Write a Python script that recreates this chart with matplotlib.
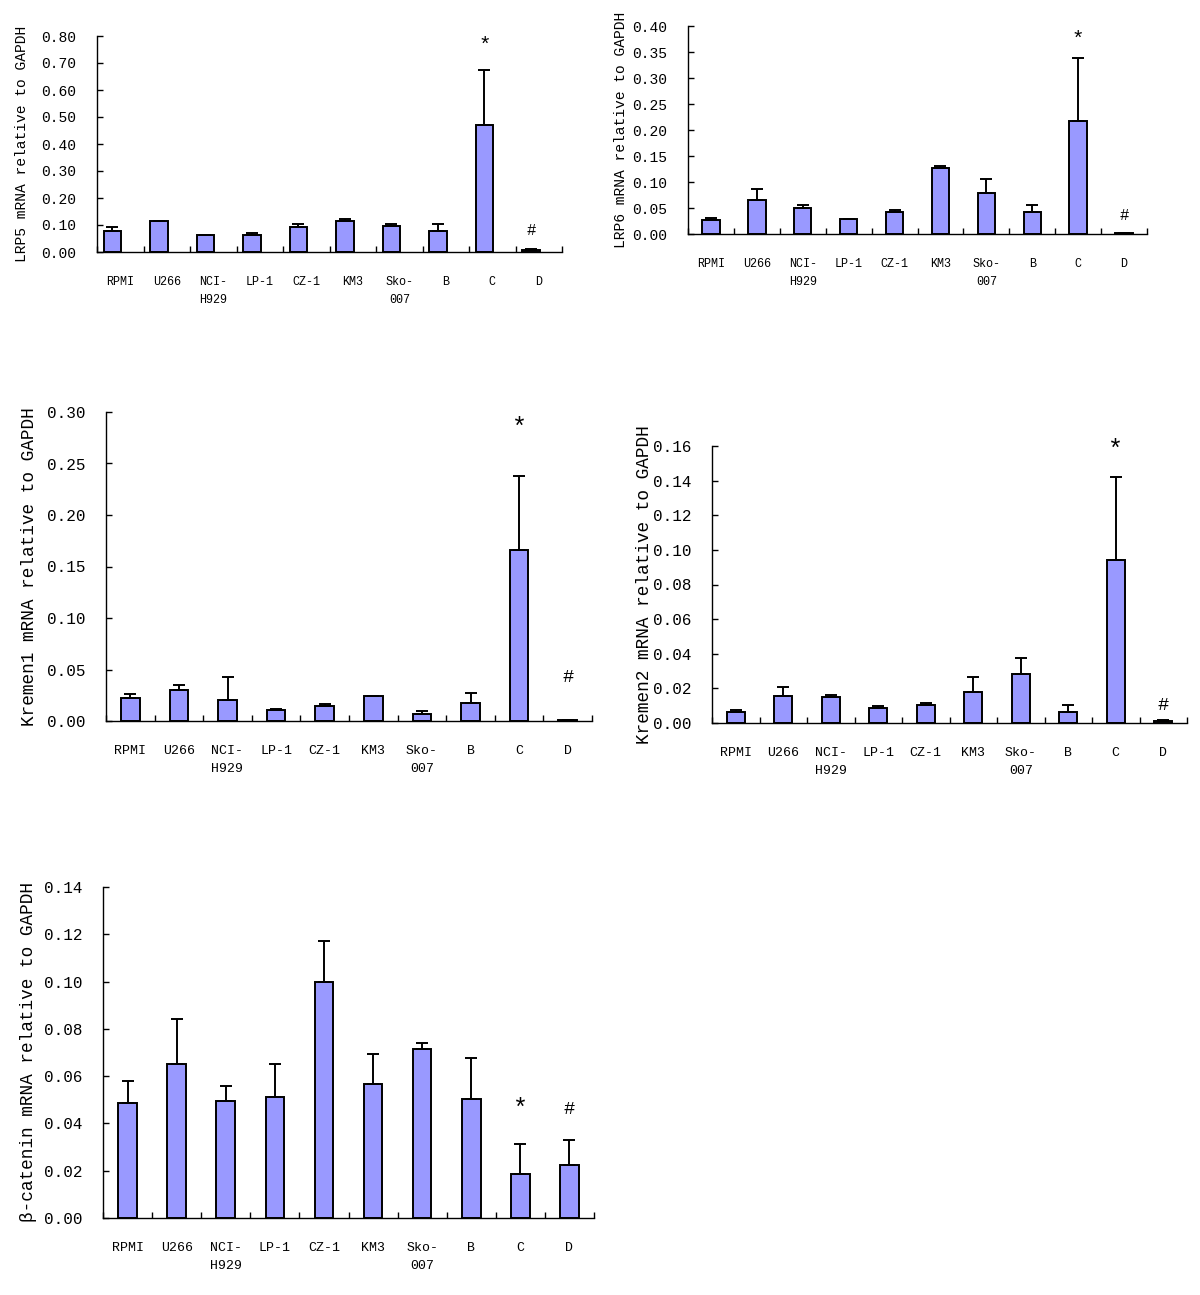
import numpy as np
import matplotlib
matplotlib.use("Agg")
import matplotlib.pyplot as plt
from matplotlib.ticker import FormatStrFormatter, MultipleLocator, FixedLocator

plt.rcParams['font.family'] = ['Liberation Mono', 'DejaVu Sans Mono']

groups = ["RPMI", "U266", "NCI-\nH929", "LP-1", "CZ-1", "KM3", "Sko-\n007", "B", "C", "D"]

# mean and (upper) error
lrp5_mean = [0.078, 0.116, 0.064, 0.064, 0.093, 0.116, 0.098, 0.078, 0.469, 0.006]
lrp5_err = [0.015, 0.0, 0.0, 0.006, 0.011, 0.007, 0.006, 0.026, 0.204, 0.004]

lrp6_mean = [0.026, 0.066, 0.050, 0.028, 0.043, 0.127, 0.078, 0.043, 0.217, 0.0025]
lrp6_err = [0.005, 0.020, 0.006, 0.0, 0.004, 0.003, 0.027, 0.013, 0.121, 0.0]

kremen1_mean = [0.0223, 0.0298, 0.0207, 0.0104, 0.0142, 0.0246, 0.0068, 0.0172, 0.166, 0.001]
kremen1_err = [0.0037, 0.0052, 0.0223, 0.0013, 0.0026, 0.0, 0.0032, 0.0098, 0.072, 0.0]

kremen2_mean = [0.0065, 0.0158, 0.015, 0.0085, 0.0106, 0.0179, 0.0285, 0.0065, 0.094, 0.0012]
kremen2_err = [0.0008, 0.0052, 0.0013, 0.0011, 0.0009, 0.0084, 0.0092, 0.0039, 0.048, 0.0007]

bcat_mean = [0.0487, 0.0651, 0.0495, 0.0511, 0.0998, 0.0566, 0.0716, 0.0505, 0.0184, 0.0224]
bcat_err = [0.0094, 0.019, 0.0064, 0.0142, 0.0174, 0.0129, 0.0023, 0.0173, 0.0131, 0.0107]

# height of the "*" (over C) and "#" (over D) marks
star_y = [0.765, 0.374, 0.285, 0.158, 0.0462]
hash_y = [0.08, 0.035, 0.042, 0.010, 0.0457]

ylabels = ["LRP5 mRNA relative to GAPDH",
           "LRP6 mRNA relative to GAPDH",
           "Kremen1 mRNA relative to GAPDH",
           "Kremen2 mRNA relative to GAPDH",
           "\u03b2-catenin mRNA relative to GAPDH"]
ymax = [0.80, 0.40, 0.30, 0.16, 0.14]
ystep = [0.10, 0.05, 0.05, 0.02, 0.02]

W, H = 1200, 1295
# pixel boxes: left, right, top, bottom
boxes = [(97, 562, 36, 252), (688, 1147, 26, 234), (106, 592, 412, 721),
         (712, 1187, 446, 723), (103, 594, 887, 1218)]
label_x = [-0.162, -0.146, -0.158, -0.143, -0.151]
bar_shift = [-0.17, 0, 0, 0, 0]
small = [True, True, False, False, False]

panels = [(lrp5_mean, lrp5_err), (lrp6_mean, lrp6_err), (kremen1_mean, kremen1_err),
          (kremen2_mean, kremen2_err), (bcat_mean, bcat_err)]

fig = plt.figure(figsize=(W / 100, H / 100), dpi=100)

for i, (mean, err) in enumerate(panels):
    l, r, t, b = boxes[i]
    ax = fig.add_axes([l / W, 1 - b / H, (r - l) / W, (b - t) / H])
    x = np.arange(len(groups)) + bar_shift[i]
    ax.bar(x, mean, width=0.38, color='#9999ff', edgecolor='black', linewidth=1.4, zorder=2)
    ax.errorbar(x, mean, yerr=[np.zeros(len(mean)), err], fmt='none', ecolor='black',
                elinewidth=1.4, capsize=4.5, capthick=1.4, zorder=3)

    fs_tick = 10.5 if small[i] else 11.5
    fs_x = 8.5 if small[i] else 9.5
    fs_lab = 10.5 if small[i] else 12.8
    fs_mark = 15 if small[i] else 18

    ax.text(x[8], star_y[i], "*", ha='center', va='center', fontsize=fs_mark)
    ax.text(x[9], hash_y[i], "#", ha='center', va='center', fontsize=fs_mark * 0.75)

    ax.set_xlim(-0.5, len(groups) - 0.5)
    ax.set_ylim(0, ymax[i])
    ax.yaxis.set_major_locator(MultipleLocator(ystep[i]))
    ax.yaxis.set_major_formatter(FormatStrFormatter('%.2f'))
    ax.tick_params(axis='y', direction='in', length=4, width=1, pad=15, labelsize=fs_tick)

    ax.set_xticks(np.arange(len(groups)))
    ax.set_xticklabels(groups, fontsize=fs_x, linespacing=1.7, va='top')
    ax.tick_params(axis='x', which='major', length=0, pad=17)
    ax.xaxis.set_minor_locator(FixedLocator(np.arange(-0.5, len(groups), 1.0)))
    ax.tick_params(axis='x', which='minor', direction='in', length=4, width=1)

    for s in ['top', 'right']:
        ax.spines[s].set_visible(False)
    for s in ['left', 'bottom']:
        ax.spines[s].set_linewidth(1.0)

    ax.set_ylabel(ylabels[i], fontsize=fs_lab, va='center')
    ax.yaxis.set_label_coords(label_x[i], 0.5)

fig.savefig("out.png", dpi=100)
